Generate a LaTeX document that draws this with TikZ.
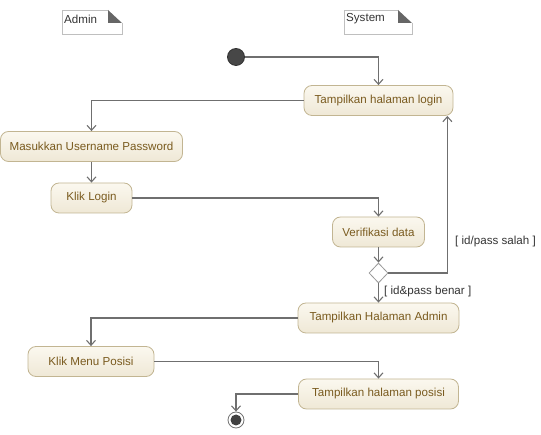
\documentclass[tikz,border=0pt]{standalone}
\usepackage{fontspec}
\setmainfont{Liberation Sans}
\usetikzlibrary{arrows.meta,shapes.geometric}
\def\umlfont{\fontsize{11.6}{14}\selectfont}

\definecolor{actfill}{HTML}{FBF8EF}
\definecolor{actshade}{HTML}{EFE8D6}
\definecolor{actline}{HTML}{C2B592}
\definecolor{acttext}{HTML}{7A5B1F}
\definecolor{flowgray}{HTML}{6F6F6F}

\tikzset{
  action/.style={draw=actline, line width=0.8pt, rounded corners=8pt,
    top color=actfill, bottom color=actshade, text=acttext,
    font=\umlfont, minimum height=30pt, inner sep=0pt},
  flow/.style={draw=flowgray, line width=1.4pt,
    -{Straight Barb[length=5pt,width=9pt,line width=1.1pt]}},
  guard/.style={font=\umlfont, text=black!80, inner sep=0pt},
  lanetag/.style={font=\umlfont, text=black!80, inner sep=0pt, anchor=west}
}

\begin{document}
\begin{tikzpicture}[x=1pt, y=-1pt]
      \useasboundingbox (0, 0) rectangle (541, 435);

      % swimlane notes
      \draw [black!25, line width=0.8pt] (122, 23) -- (122, 34) -- (62, 34) -- (62, 10) -- (108, 10);
      \fill [fill=black!60] (108, 10) -- (122, 23) -- (108, 23) -- cycle;
      \node[lanetag] (adminTag) at (64, 19) {Admin};
      \draw [black!25, line width=0.8pt] (412, 23) -- (412, 34) -- (344, 34) -- (344, 10) -- (398, 10);
      \fill [fill=black!60] (398, 10) -- (412, 23) -- (398, 23) -- cycle;
      \node[lanetag] (systemTag) at (346, 19) {System};

      % start and end
      \node[circle, draw=black!80, fill=black!72, line width=0.8pt, minimum size=17pt, inner sep=0pt] (start) at (236, 57) {};
      \node[circle, draw=black!55, fill=white, line width=0.8pt, minimum size=16pt, inner sep=0pt] (stop) at (236, 420) {};
      \fill [fill=black!75] (stop.center) circle (5.5);

      % actions
      \node[action, minimum width=149pt] (showLogin) at (378.5, 100.5) {Tampilkan halaman login};
      \node[action, minimum width=182pt] (inputUser) at (91.5, 146.5) {Masukkan Username Password};
      \node[action, minimum width=81pt] (clickLogin) at (91.5, 198) {Klik Login};
      \node[action, minimum width=92pt] (verify) at (378.5, 232) {Verifikasi data};
      \node[diamond, draw=black!40, fill=white, line width=0.8pt, minimum width=19pt, minimum height=20pt, inner sep=0pt] (check) at (378.5, 273) {};
      \node[action, minimum width=161pt] (showAdmin) at (378.5, 318) {Tampilkan Halaman Admin};
      \node[action, minimum width=126pt] (clickMenu) at (91, 361.5) {Klik Menu Posisi};
      \node[action, minimum width=160pt] (showPosisi) at (378.5, 394) {Tampilkan halaman posisi};

      % guards
      \node[guard, anchor=west] (wrongPass) at (455, 242) {[ id/pass salah ]};
      \node[guard, anchor=west] (rightPass) at (384, 292) {[ id\&pass benar ]};

      % flows
      \draw[flow] (start) -| (showLogin);
      \draw[flow] (showLogin) -| (inputUser);
      \draw[flow] (inputUser) -- (clickLogin);
      \draw[flow] (clickLogin) -| (verify);
      \draw[flow] (verify) -- (check);
      \draw[flow] (check.east) -| ([xshift=-6pt]showLogin.south east);
      \draw[flow] (check) -- (showAdmin);
      \draw[flow] (showAdmin) -| (clickMenu);
      \draw[flow] (clickMenu) -| (showPosisi);
      \draw[flow] (showPosisi) -| (stop);
    \end{tikzpicture}
\end{document}
